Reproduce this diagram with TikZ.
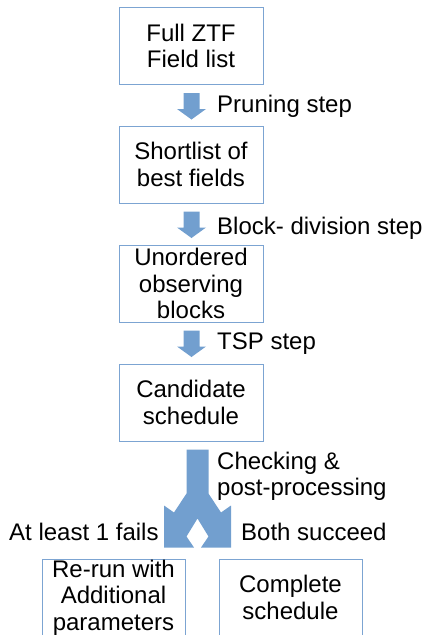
\documentclass[tikz,border=0pt]{standalone}
\usepackage{fontspec}
\setmainfont{Liberation Sans}
\usetikzlibrary{calc}
\definecolor{boxline}{RGB}{124,164,210}
\definecolor{arrowfill}{RGB}{114,159,207}
\begin{document}
\begin{tikzpicture}[x=1pt,y=-1pt,
  every node/.style={font=\fontsize{24}{26.5}\selectfont, inner sep=0pt},
  stagebox/.style={draw=boxline, line width=1pt, minimum width=144pt, minimum height=77pt, align=center, fill=white},
  steplabel/.style={anchor=base west, align=left},
  blockarrow/.style={fill=arrowfill}
]
\useasboundingbox (0,0) rectangle (428,635);
% boxes
\node[stagebox] (b1) at (191,46) {Full ZTF\\Field list};
\node[stagebox] (b2) at (191,164.5) {Shortlist of\\best fields};
\node[stagebox] (b3) at (191,283.5) {Unordered\\observing\\blocks};
\node[stagebox] (b4) at (191,402.5) {Candidate\\schedule};
\node[stagebox, minimum width=143pt] (b5) at (113.5,597.5) {Re-run with\\Additional\\parameters};
\node[stagebox, minimum width=143pt] (b6) at (290.5,597.5) {Complete\\schedule};
% arrow anchor points
\coordinate (a1) at ($(b1.south)+(0.5,8)$);
\coordinate (a2) at ($(b2.south)+(0.5,8)$);
\coordinate (a3) at ($(b3.south)+(0.5,8)$);
\coordinate (a4) at ($(b4.south)+(6.5,8)$);
% small block arrows
\foreach \c in {a1,a2,a3}{
  \fill[blockarrow, shift={(\c)}] (-8,0) -- (8,0) -- (8,16) -- (14.5,16) -- (0,26.5) -- (-14.5,16) -- (-8,16) -- cycle;
}
% split arrow
\fill[blockarrow, shift={(a4)}] (-11,0) -- (11,0) -- (11,44) -- (23.5,63) -- (33.5,56) -- (33.5,98) -- (3.5,98) -- (11,87) -- (0,69) -- (-11,87) -- (-3.5,98) -- (-33.5,98) -- (-33.5,56) -- (-23.5,63) -- (-11,44) -- cycle;
% labels
\node[steplabel] (l1) at (217,112.5) {Pruning step};
\node[steplabel] (l2) at (217,234) {Block- division step};
\node[steplabel] (l3) at (217,349) {TSP step};
\node[steplabel] (l4) at (217,495.5) {Checking \&\\post-processing};
\node[steplabel] (l5) at (9,540) {At least 1 fails};
\node[steplabel] (l6) at (241,540) {Both succeed};
\end{tikzpicture}
\end{document}
